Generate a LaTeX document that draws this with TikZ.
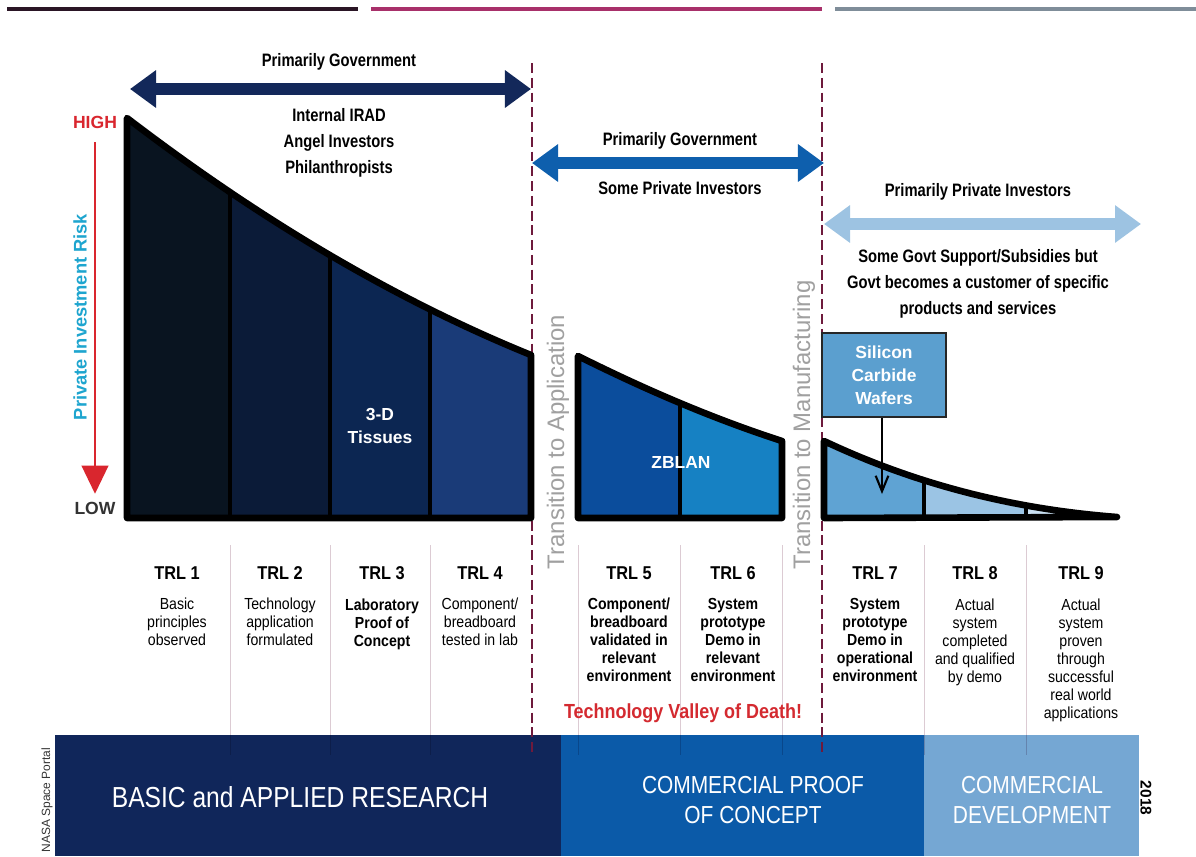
\documentclass[tikz,border=0pt]{standalone}
\usepackage{fontspec}
\setmainfont{Liberation Sans}
\newfontfamily\headfont[FakeStretch=0.82]{Liberation Sans}
\newfontfamily\trlfont[FakeStretch=0.88]{Liberation Sans}
\newfontfamily\bandfont[FakeStretch=0.85]{Liberation Sans}
\usepackage{tikz}
\usetikzlibrary{arrows.meta,positioning,calc}
\definecolor{researchnavy}{RGB}{16,38,90}
\definecolor{proofblue}{RGB}{11,90,168}
\definecolor{devblue}{RGB}{117,167,211}
\definecolor{trlone}{RGB}{9,20,32}
\definecolor{trltwo}{RGB}{11,27,56}
\definecolor{trlthree}{RGB}{12,38,82}
\definecolor{trlfour}{RGB}{26,59,120}
\definecolor{trlfive}{RGB}{11,77,156}
\definecolor{trlsix}{RGB}{22,129,195}
\definecolor{trlseven}{RGB}{95,163,211}
\definecolor{trleight}{RGB}{155,196,228}
\definecolor{trlnine}{RGB}{201,224,242}
\definecolor{govnavy}{RGB}{19,40,90}
\definecolor{govblue}{RGB}{14,95,173}
\definecolor{privateblue}{RGB}{157,195,226}
\definecolor{phasered}{RGB}{110,26,60}
\definecolor{riskred}{RGB}{217,38,46}
\definecolor{riskcyan}{RGB}{30,165,207}
\definecolor{transgray}{RGB}{160,160,160}
\definecolor{valleyred}{RGB}{212,42,48}
\definecolor{sepline}{RGB}{220,203,211}
\definecolor{waferfill}{RGB}{91,159,207}
\definecolor{topdark}{RGB}{42,21,37}
\definecolor{topmagenta}{RGB}{168,48,106}
\definecolor{topgray}{RGB}{127,141,153}

% risk curves, one per phase
\def\researchcurve{(127,518) -- (127,118) .. controls (263,222) and (398,301) .. (531,355) -- (531,518) -- cycle}
\def\proofcurve{(578,518) -- (578,356) .. controls (646,390) and (714,419) .. (782,441) -- (782,518) -- cycle}
\def\devcurve{(824,518) -- (824,441) .. controls (915,484) and (1012,509) .. (1117,517) -- cycle}

\begin{document}
\begin{tikzpicture}[
    x=0.025cm, y=-0.025cm,
    fundarrow/.style={line width=9pt, {Triangle[width=25.6pt,length=18.5pt]}-{Triangle[width=25.6pt,length=18.5pt]}},
    phaseline/.style={phasered, line width=1.3pt, dash pattern=on 7pt off 3.5pt},
    trlsep/.style={sepline, line width=0.7pt},
    outline/.style={line width=4.7pt, line join=round},
    divider/.style={line width=2.8pt},
    headtext/.style={font=\headfont\bfseries\fontsize{12.8pt}{18.5pt}\selectfont, align=center, inner sep=0pt},
    trllabel/.style={font=\trlfont\bfseries\fontsize{13.2pt}{15pt}\selectfont, inner sep=0pt},
    trldesc/.style={font=\trlfont\fontsize{11.4pt}{12.8pt}\selectfont, align=center, inner sep=0pt},
    trlbold/.style={trldesc, font=\trlfont\bfseries\fontsize{11.4pt}{12.8pt}\selectfont},
    bandtext/.style={text=white, font=\bandfont\fontsize{17.5pt}{21.3pt}\selectfont, align=center},
    transtext/.style={text=transgray, rotate=90, font=\fontsize{17pt}{20pt}\selectfont},
    cropname/.style={text=white, font=\bfseries\fontsize{12.4pt}{16.4pt}\selectfont, align=center},
    waferbox/.style={draw=black!85, line width=1.4pt, fill=waferfill, minimum width=88pt, minimum height=60pt, cropname},
    riskarrow/.style={riskred, line width=1.2pt, -{Triangle[width=19pt,length=20pt]}},
    waferarrow/.style={line width=1.5pt, -{Straight Barb[length=11pt,width=9pt]}}
]
\path[use as bounding box, fill=white] (0,0) rectangle (1196,856);

% header rules
\draw[topdark, line width=2.2pt] (7,9) -- (358,9);
\draw[topmagenta, line width=2.2pt] (371,9) -- (822,9);
\draw[topgray, line width=2.2pt] (835,9) -- (1196,9);

% Bottom band
\fill[researchnavy] (55,735) rectangle (561,856);
\fill[proofblue] (561,735) rectangle (924,856);
\fill[devblue] (924,735) rectangle (1139,856);

% TRL separators
\begin{scope}[blend mode=multiply]
\foreach \x in {230,330,430,578,680,782,924,1026} {
    \draw[trlsep] (\x,545) -- (\x,755);
}
\end{scope}

% phase boundaries
\draw[phaseline] (532,63) -- (532,755);
\draw[phaseline] (822,63) -- (822,755);

% Research phase
\begin{scope}
\clip \researchcurve;
\fill[trlone] (100,100) rectangle (230,530);
\fill[trltwo] (230,100) rectangle (330,530);
\fill[trlthree] (330,100) rectangle (430,530);
\fill[trlfour] (430,100) rectangle (540,530);
\foreach \x in {230,330,430} {
    \draw[divider] (\x,100) -- (\x,530);
}
\end{scope}
\draw[outline] \researchcurve;

% Proof of concept phase
\begin{scope}
\clip \proofcurve;
\fill[trlfive] (570,340) rectangle (680,530);
\fill[trlsix] (680,340) rectangle (790,530);
\draw[divider] (680,340) -- (680,530);
\end{scope}
\draw[outline] \proofcurve;

% Development phase
\begin{scope}
\clip \devcurve;
\fill[trlseven] (815,430) rectangle (924,530);
\fill[trleight] (924,430) rectangle (1026,530);
\fill[trlnine] (1026,430) rectangle (1125,530);
\foreach \x in {924,1026} {
    \draw[divider] (\x,430) -- (\x,530);
}
\end{scope}
\draw[outline] \devcurve;

% Funding arrows
\coordinate (govL) at (130,89);
\coordinate (govR) at (531,89);
\coordinate (mixL) at (532,163);
\coordinate (mixR) at (824,163);
\coordinate (privL) at (824,224);
\coordinate (privR) at (1141,224);
\draw[fundarrow, govnavy] (govL) -- (govR);
\draw[fundarrow, govblue] (mixL) -- (mixR);
\draw[fundarrow, privateblue] (privL) -- (privR);

\node[headtext] (gov) at (339,62) {Primarily Government};
\node[headtext] (angels) at (339,143) {Internal IRAD\\Angel Investors\\Philanthropists};
\node[headtext] (govmix) at (680,141) {Primarily Government};
\node[headtext] (someprivate) at (680,188) {Some Private Investors};
\node[headtext] (private) at (978,192) {Primarily Private Investors};
\node[headtext] (support) at (978,284) {Some Govt Support/Subsidies but\\Govt becomes a customer of specific\\products and services};

% Risk axis
\node[riskred, font=\bfseries\fontsize{12.5pt}{14pt}\selectfont, inner sep=2pt] (high) at (95,122) {HIGH};
\node[black!80, font=\bfseries\fontsize{12.5pt}{14pt}\selectfont, inner sep=2pt] (low) at (95,508) {LOW};
\draw[riskarrow, shorten <=7.8pt, shorten >=3.5pt] (high.south) -- (low.north);
\node[riskcyan, rotate=90, font=\bfseries\fontsize{13pt}{15pt}\selectfont] (risk) at (80,317) {Private Investment Risk};

% Transitions
\node[transtext] (toapp) at (558,442) {Transition to Application};
\node[transtext] (tomanuf) at (804,425) {Transition to Manufacturing};

% Example technologies
\node[cropname] (tissues) at (380,426) {3-D\\Tissues};
\node[cropname] (zblan) at (681,462) {ZBLAN};
\node[waferbox] (wafers) at (884,375) {Silicon\\Carbide\\Wafers};
\coordinate (wafertip) at (882,494);
\draw[waferarrow] (wafers.south -| wafertip) -- (wafertip);

% TRL labels
\foreach \x/\n in {177/1,280/2,382/3,480/4,629/5,733/6,875/7,975/8,1081/9} {
    \node[trllabel] (trl\n) at (\x,573) {TRL \n};
}
\node[trldesc, below=13pt of trl1] (desc1) {Basic\\principles\\observed};
\node[trldesc, below=13pt of trl2] (desc2) {Technology\\application\\formulated};
\node[trlbold, below=13pt of trl3] (desc3) {Laboratory\\Proof of\\Concept};
\node[trldesc, below=13pt of trl4] (desc4) {Component/\\breadboard\\tested in lab};
\node[trlbold, below=13pt of trl5] (desc5) {Component/\\breadboard\\validated in\\relevant\\environment};
\node[trlbold, below=13pt of trl6] (desc6) {System\\prototype\\Demo in\\relevant\\environment};
\node[trlbold, below=13pt of trl7] (desc7) {System\\prototype\\Demo in\\operational\\environment};
\node[trldesc, below=13pt of trl8] (desc8) {Actual\\system\\completed\\and qualified\\by demo};
\node[trldesc, below=13pt of trl9] (desc9) {Actual\\system\\proven\\through\\successful\\real world\\applications};

\node[valleyred, font=\trlfont\bfseries\fontsize{14.5pt}{16pt}\selectfont] (valley) at (683,713) {Technology Valley of Death!};

% Phase names
\node[bandtext, font=\bandfont\fontsize{20.6pt}{24pt}\selectfont] (research) at (300,797) {BASIC and APPLIED RESEARCH};
\node[bandtext] (proof) at (753,800) {COMMERCIAL PROOF\\OF CONCEPT};
\node[bandtext] (development) at (1032,800) {COMMERCIAL\\DEVELOPMENT};

\node[black!80, rotate=90, font=\fontsize{8.5pt}{10pt}\selectfont] (portal) at (47,800) {NASA Space Portal};
\node[black, rotate=-90, font=\bfseries\fontsize{11pt}{12pt}\selectfont] (year) at (1146,798) {2018};

\end{tikzpicture}
\end{document}
